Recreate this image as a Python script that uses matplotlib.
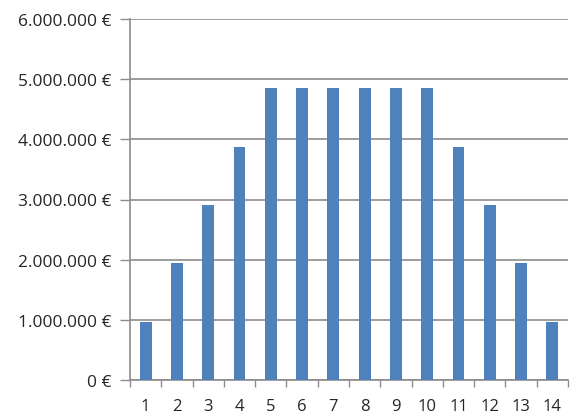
import matplotlib
matplotlib.use("Agg")
import matplotlib.pyplot as plt
import numpy as np
from matplotlib.ticker import FuncFormatter, MultipleLocator

periods = list(range(1, 15))
amounts = [970000, 1940000, 2910000, 3880000, 4850000, 4850000, 4850000,
           4850000, 4850000, 4850000, 3880000, 2910000, 1940000, 970000]

bar_color = "#4F81BD"
grid_color = "#8C8C8C"

plt.rcParams["font.family"] = ["Open Sans", "DejaVu Sans"]

fig = plt.figure(figsize=(5.70, 4.14), dpi=100)
ax = fig.add_axes([130 / 570, 1 - 381 / 414, 438 / 570, 361 / 414])

ax.bar(periods, amounts, width=0.38, color=bar_color, zorder=3)

ax.set_xlim(0.5, 14.5)
ax.set_ylim(0, 6000000)

def euro(v, pos):
    return "{:,.0f} €".format(v).replace(",", ".")

ax.yaxis.set_major_locator(MultipleLocator(1000000))
ax.yaxis.set_major_formatter(FuncFormatter(euro))
ax.grid(axis="y", color=grid_color, linewidth=1.2, zorder=0)

ax.set_xticks(periods)
ax.set_xticklabels([str(p) for p in periods])
ax.set_xticks(np.arange(0.5, 15, 1), minor=True)
ax.tick_params(axis="x", which="major", length=0, pad=13, labelsize=12, colors="#262626")
ax.tick_params(axis="x", which="minor", length=5, color=grid_color, width=1.0)
ax.tick_params(axis="y", length=7, color=grid_color, width=1.0, pad=6,
               labelsize=12.5, labelcolor="#262626")

for side in ("top", "right"):
    ax.spines[side].set_visible(False)
for side in ("left", "bottom"):
    ax.spines[side].set_color(grid_color)
    ax.spines[side].set_linewidth(1.2)

fig.savefig("out.png", dpi=100)
